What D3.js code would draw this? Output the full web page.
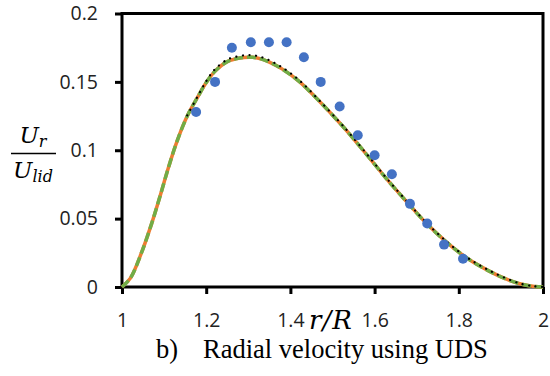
<!DOCTYPE html>
<html>
<head>
<meta charset="utf-8">
<script src="https://cdn.jsdelivr.net/npm/d3@7"></script>
<style>
	body { margin: 0; background: #fff; }
	svg { display: block; }
</style>
</head>
<body>
<div id="content"></div>
<script>
// measured points (blue dots)
var expR = [1.176, 1.221, 1.261, 1.306, 1.349, 1.391, 1.432, 1.472, 1.517, 1.560, 1.600, 1.641, 1.684, 1.725, 1.765, 1.810];
var expU = [0.128, 0.150, 0.175, 0.179, 0.179, 0.179, 0.168, 0.150, 0.132, 0.111, 0.0964, 0.0825, 0.0608, 0.0465, 0.0310, 0.0207];

// simulation curves
var curveR = [1.0, 1.02, 1.045, 1.07, 1.09, 1.11, 1.13, 1.155, 1.18, 1.2, 1.22, 1.25, 1.27, 1.29, 1.31, 1.33, 1.35, 1.38, 1.42, 1.47, 1.52, 1.54, 1.59, 1.63, 1.68, 1.72, 1.77, 1.82, 1.87, 1.915, 1.95, 1.98, 2.0];
var orangeU = [0, 0.0065, 0.024, 0.046, 0.066, 0.087, 0.106, 0.125, 0.139, 0.1495, 0.1575, 0.1648, 0.1668, 0.1679, 0.168, 0.1668, 0.1645, 0.1595, 0.1505, 0.1355, 0.119, 0.112, 0.0935, 0.0785, 0.061, 0.0475, 0.033, 0.021, 0.012, 0.0055, 0.002, 0.0004, 0];
var greenU = [0, 0.0065, 0.024, 0.046, 0.066, 0.087, 0.106, 0.125, 0.139, 0.1495, 0.1575, 0.1648, 0.1668, 0.1679, 0.168, 0.1668, 0.1645, 0.1595, 0.1505, 0.1355, 0.119, 0.112, 0.0935, 0.0785, 0.061, 0.0475, 0.033, 0.021, 0.012, 0.0055, 0.002, 0.0004, 0];
var blackU = [null, null, null, null, null, null, null, 0.1255, 0.1395, 0.1505, 0.159, 0.1663, 0.1683, 0.1694, 0.1695, 0.1682, 0.1658, 0.1607, 0.1515, 0.136, 0.1195, 0.1125, 0.094, 0.079, 0.0615, 0.048, 0.0335, 0.0215, 0.0125, 0.006, 0.0022, 0.0005, 0];

var xTicks = [1, 1.2, 1.4, 1.6, 1.8, 2];
var yTicks = [0, 0.05, 0.1, 0.15, 0.2];

function main() {
	var width = 550, height = 376;
	var svg = d3.select("#content").append("svg")
		.attr("width", width)
		.attr("height", height);

	var x = d3.scaleLinear().domain([1, 2]).range([122, 543]);
	var y = d3.scaleLinear().domain([0, 0.2]).range([287, 13.5]);

	var tickFont = "'Open Sans', sans-serif";

	// frame
	svg.append("rect")
		.attr("x", x(1)).attr("y", y(0.2))
		.attr("width", x(2) - x(1)).attr("height", y(0) - y(0.2))
		.attr("fill", "none").attr("stroke", "#000").attr("stroke-width", 3);

	// y axis
	var yAxis = svg.append("g")
		.attr("transform", `translate(${x(1)},0)`)
		.call(d3.axisLeft(y).tickValues(yTicks).tickSize(7).tickPadding(17).tickFormat(d3.format("~g")));
	// x axis
	var xAxis = svg.append("g")
		.attr("transform", `translate(0,${y(0)})`)
		.call(d3.axisBottom(x).tickValues(xTicks).tickSize(7).tickPadding(19).tickFormat(d3.format("~g")));

	[xAxis, yAxis].forEach(function (a) {
		a.select(".domain").remove();
		a.selectAll(".tick line").attr("stroke", "#000").attr("stroke-width", 3);
		a.selectAll(".tick text")
			.attr("fill", "#222")
			.style("font-family", tickFont)
			.style("font-size", "19.5px");
	});

	// curves
	var line = function (vals) {
		return d3.line()
			.defined(function (d, i) { return vals[i] != null; })
			.x(function (d) { return x(d); })
			.y(function (d, i) { return y(vals[i]); })
			.curve(d3.curveCatmullRom.alpha(0.5))(curveR);
	};

	svg.append("path").attr("d", line(orangeU))
		.attr("fill", "none").attr("stroke", "#ed7d31").attr("stroke-width", 3.5);
	svg.append("path").attr("d", line(greenU))
		.attr("fill", "none").attr("stroke", "#70ad47").attr("stroke-width", 3.5)
		.attr("stroke-dasharray", "9,4");
	svg.append("path").attr("d", line(blackU))
		.attr("fill", "none").attr("stroke", "#000").attr("stroke-width", 2.2)
		.attr("stroke-linecap", "round")
		.attr("stroke-dasharray", "0.1,6.5");

	// measured points
	svg.append("g").selectAll("circle")
		.data(expR)
		.enter().append("circle")
		.attr("cx", function (d) { return x(d); })
		.attr("cy", function (d, i) { return y(expU[i]); })
		.attr("r", 5)
		.attr("fill", "#4472c4");

	// axis titles
	var mathFont = "'DejaVu Serif', serif";
	var yl = svg.append("g");
	yl.append("text").attr("x", 33).attr("y", 143).attr("text-anchor", "middle")
		.style("font-family", mathFont).style("font-style", "italic").style("font-size", "23px")
		.text("U").append("tspan").attr("dy", 4).style("font-size", "16px").text("r");
	yl.append("line").attr("x1", 11).attr("x2", 56).attr("y1", 153.5).attr("y2", 153.5)
		.attr("stroke", "#000").attr("stroke-width", 1.4);
	yl.append("text").attr("x", 33).attr("y", 178).attr("text-anchor", "middle")
		.style("font-family", mathFont).style("font-style", "italic").style("font-size", "23px")
		.text("U").append("tspan").attr("dy", 4).style("font-size", "16px").text("lid");

	svg.append("text").attr("x", 331).attr("y", 329).attr("text-anchor", "middle")
		.style("font-family", mathFont).style("font-style", "italic").style("font-size", "26px")
		.style("letter-spacing", "1px")
		.text("r/R");

	// caption
	var capFont = "'Liberation Serif', serif";
	svg.append("text").attr("x", 156).attr("y", 358)
		.style("font-family", capFont).style("font-size", "26.5px")
		.text("b)");
	svg.append("text").attr("x", 203).attr("y", 358)
		.style("font-family", capFont).style("font-size", "26.5px")
		.text("Radial velocity using UDS");
}

main();
</script>
</body>
</html>
